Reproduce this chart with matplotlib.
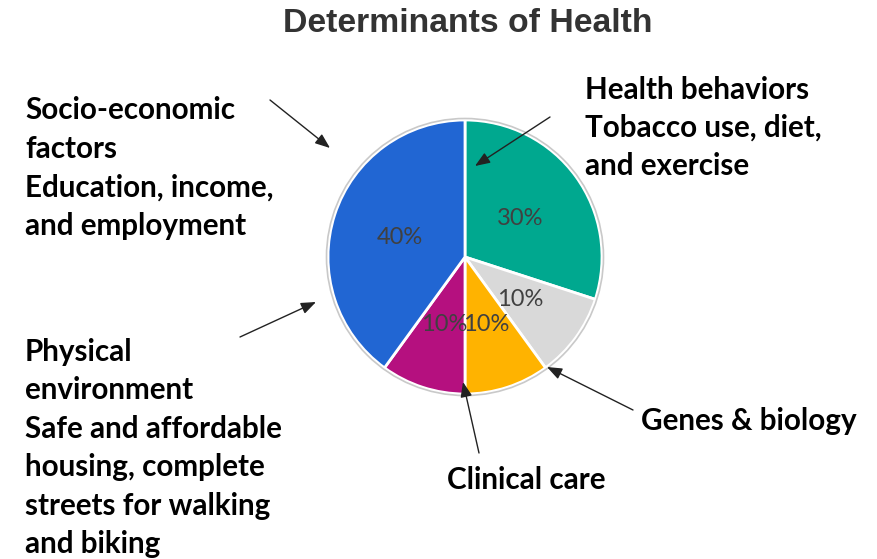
import matplotlib
matplotlib.use("Agg")
import matplotlib.pyplot as plt
from matplotlib.patches import Circle

# Data
categories = ["Health behaviors", "Genes & biology", "Clinical care",
              "Physical environment", "Socio-economic factors"]
values = [30, 10, 10, 10, 40]
colors = ["#00A88F", "#D9D9D9", "#FFB300", "#B5107F", "#2166D3"]
title = "Determinants of Health"

labels_text = {
    "Socio-economic factors": "Socio-economic\nfactors\nEducation, income,\nand employment",
    "Health behaviors": "Health behaviors\nTobacco use, diet,\nand exercise",
    "Physical environment": "Physical\nenvironment\nSafe and affordable\nhousing, complete\nstreets for walking\nand biking",
    "Genes & biology": "Genes & biology",
    "Clinical care": "Clinical care",
}

W, H = 877, 559
fig = plt.figure(figsize=(W / 100, H / 100), dpi=100)
ax = fig.add_axes([0, 0, 1, 1])

def Y(y):
    return H - y

cx, cy, r = 465, Y(257), 137
wedges, texts, autotexts = ax.pie(
    values, colors=colors, startangle=90, counterclock=False,
    center=(cx, cy), radius=r, autopct="%d%%", pctdistance=0.5,
    wedgeprops=dict(edgecolor="white", linewidth=2),
    textprops=dict(color="#404040", fontsize=17, family="Lato"))
for t in autotexts:
    x, y = t.get_position()
    t.set_position((x, y - 2))
ax.add_patch(Circle((cx, cy), r + 1.5, facecolor="none", edgecolor="#c9c9c9", linewidth=1.2, zorder=5))

ax.set_xlim(0, W)
ax.set_ylim(0, H)
ax.set_aspect("equal")
ax.axis("off")

ax.text(468, Y(23), title, ha="center", va="center", fontsize=24.3,
        fontweight="bold", color="#333333", family="Liberation Sans")

tfont = dict(fontsize=21.3, fontweight="bold", color="black", family="Lato",
             linespacing=1.45)
ax.text(25, Y(168), labels_text["Socio-economic factors"], ha="left", va="center", **tfont)
ax.text(585, Y(128), labels_text["Health behaviors"], ha="left", va="center", **tfont)
ax.text(25, Y(448), labels_text["Physical environment"], ha="left", va="center", **tfont)
ax.text(641, Y(421), labels_text["Genes & biology"], ha="left", va="center", **tfont)
ax.text(447, Y(480), labels_text["Clinical care"], ha="left", va="center", **tfont)

arrows = [((270, 100), (330, 148)),
          ((550, 117), (475, 166)),
          ((240, 337), (316, 302)),
          ((633, 410), (547, 367)),
          ((479, 453), (463, 382))]
for (x0, y0), (x1, y1) in arrows:
    ax.annotate("", xy=(x1, Y(y1)), xytext=(x0, Y(y0)),
                arrowprops=dict(arrowstyle="-|>,head_length=0.9,head_width=0.35",
                                color="#222222", lw=1.0, shrinkA=0, shrinkB=0),
                zorder=6)

fig.savefig("out.png", dpi=100)
